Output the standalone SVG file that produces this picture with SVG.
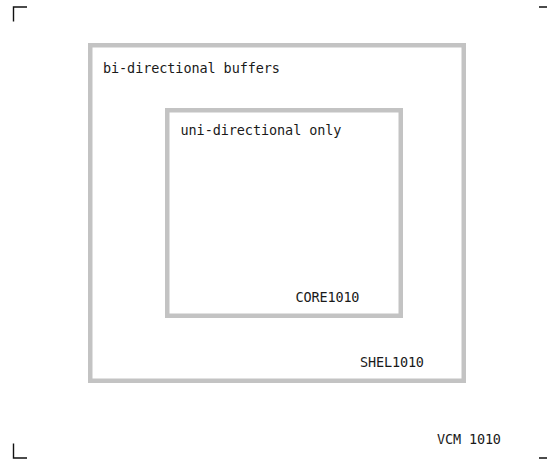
<svg xmlns="http://www.w3.org/2000/svg" width="547" height="460" viewBox="0 0 547 460">
  <style>
    .frame { fill: none; stroke: #c3c3c3; stroke-width: 4.5; }
    .crop { fill: none; stroke: #111; stroke-width: 1.4; }
    .lbl { font-family: "DejaVu Sans Mono", "Liberation Mono", monospace; font-size: 13.5px; fill: #1a1a1a; }
  </style>
  <rect width="547" height="460" fill="#fff"/>

  <!-- crop marks -->
  <g id="crop-marks">
    <polyline class="crop" points="13.5,21.5 13.5,7 27,7"/>
    <polyline class="crop" points="539,7 553,7 553,21.5"/>
    <polyline class="crop" points="13.5,443.5 13.5,458 27,458"/>
    <polyline class="crop" points="539,458 553,458 553,443.5"/>
  </g>

  <g id="shell">
    <rect class="frame" x="90.25" y="45.25" width="373.5" height="335.5"/>
    <text class="lbl" x="103" y="73" textLength="177" lengthAdjust="spacing">bi-directional buffers</text>
    <text class="lbl" x="360" y="366.5" textLength="64" lengthAdjust="spacing">SHEL1010</text>
  </g>

  <g id="core">
    <rect class="frame" x="167.25" y="110.25" width="233.5" height="205.5"/>
    <text class="lbl" x="180.5" y="135" textLength="161" lengthAdjust="spacing">uni-directional only</text>
    <text class="lbl" x="295.5" y="301.5" textLength="64" lengthAdjust="spacing">CORE1010</text>
  </g>

  <g id="caption">
    <text class="lbl" x="437" y="444" textLength="64" lengthAdjust="spacing">VCM 1010</text>
  </g>

  <g id="connectors"/>
</svg>
